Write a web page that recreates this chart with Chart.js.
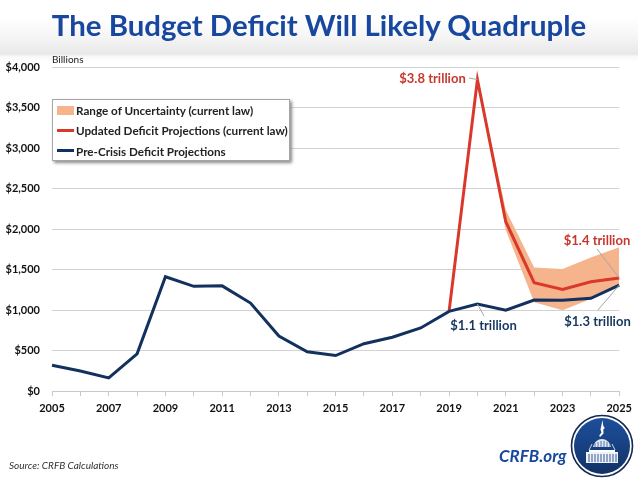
<!DOCTYPE html>
<html><head><meta charset="utf-8">
<style>
html,body{margin:0;padding:0;background:#fff;width:638px;height:479px;overflow:hidden}
#wrap{position:relative;width:638px;height:479px;font-family:Lato,sans-serif}
#band{position:absolute;left:0;top:0;width:638px;height:62px;background:linear-gradient(#fff 0,#fff 18px,#f6f6f6 36px,#e9e9e9 53px,#e6e6e6 54px,#f7f7f7 56px,#fff 62px)}
#title{position:absolute;left:0;top:7px;width:638px;text-align:center;font-size:29.4px;line-height:36px;font-weight:700;color:#17479e;white-space:nowrap}
canvas{position:absolute;left:0;top:0}
#legend{position:absolute;left:52px;top:99px;width:236px;height:60px;background:#fff;border:1px solid #a6a6a6;box-shadow:2px 2px 3px #8c8c8c;font-size:11.7px;font-weight:700;color:#222}
.row{position:absolute;left:4px;height:20px;line-height:20px;white-space:nowrap}
.sw{position:absolute;left:0;width:17px}
.tx{position:absolute;left:19px;top:0}
#source{position:absolute;left:9px;top:459px;font-size:10px;font-style:italic;color:#333}
#org{position:absolute;left:499px;top:445px;font-size:17px;font-weight:700;font-style:italic;color:#17479e}
#billions{position:absolute;left:52px;top:53px;font-size:10px;color:#222}
#logo{position:absolute;left:570px;top:414px}
</style></head><body>
<div id="wrap">
<div id="band"></div>
<canvas id="c" width="638" height="479"></canvas>
<div id="title">The Budget Deficit Will Likely Quadruple</div>
<div id="billions">Billions</div>
<div id="legend"></div>
<div id="source">Source: CRFB Calculations</div>
<div id="org">CRFB.org</div>
<svg id="logo" width="64" height="64" viewBox="0 0 64 64">
<defs><linearGradient id="g" x1="0" y1="0" x2="0" y2="1"><stop offset="0" stop-color="#1d4f9c"/><stop offset="1" stop-color="#123266"/></linearGradient></defs>
<circle cx="32" cy="32" r="30.5" fill="#fff" stroke="#14294f" stroke-width="1.6"/>
<circle cx="32" cy="32" r="28" fill="url(#g)"/>
<path d="M32.500 6l.8 6 1.500 2-1.500 1.500 .2 4-3.500 3.500-.8-1.500 2.300-3-1-3z" fill="#fff"/>
<path d="M23 33c1-5 5-8 9-8s8 3 9 8z" fill="#dfe7f2"/>
<path d="M19 36h26v2H19z" fill="#fff"/>
<path d="M22 30l-3 6M42 30l3 6" stroke="#c9d6ea" stroke-width="1"/>
<path d="M16 38h32v11H16z" fill="#eef2f8"/>
<path d="M19 40v8M22 40v8M25 40v8M28 40v8M31 40v8M34 40v8M37 40v8M40 40v8M43 40v8M46 40v8" stroke="#34588f" stroke-width="1"/>
<path d="M25 29v4M28 28v5M31 27v6M34 27v6M37 28v5M40 29v4" stroke="#34588f" stroke-width=".8"/>
</svg>
</div>
<script src="https://cdn.jsdelivr.net/npm/chart.js@4/dist/chart.umd.min.js"></script>
<script>
const years=['2005','2006','2007','2008','2009','2010','2011','2012','2013','2014','2015','2016','2017','2018','2019','2020','2021','2022','2023','2024','2025'];
const preCrisis=[318,248,161,459,1413,1294,1300,1087,680,485,438,585,665,779,984,1075,1000,1125,1121,1146,1310];
const updated=[null,null,null,null,null,null,null,null,null,null,null,null,null,null,984,3850,2093,1339,1257,1351,1397];
const upper=[null,null,null,null,null,null,null,null,null,null,null,null,null,null,null,3850,2237,1528,1508,1652,1776];
const lower=[null,null,null,null,null,null,null,null,null,null,null,null,null,null,null,3850,1990,1096,997,1137,1310];
const yTicks=[0,500,1000,1500,2000,2500,3000,3500,4000];
const seriesNames=['Range of Uncertainty (current law)','Updated Deficit Projections (current law)','Pre-Crisis Deficit Projections'];
const callouts=[
 {text:'$3.8 trillion',color:'#c8372d',series:updated,year:'2020',tx:432.5,ty:79,x1:469,y1:78},
 {text:'$1.4 trillion',color:'#c8372d',series:updated,year:'2025',tx:597,ty:241,x1:597,y1:249},
 {text:'$1.1 trillion',color:'#17365f',series:preCrisis,year:'2020',tx:483.5,ty:326,x1:484,y1:316},
 {text:'$1.3 trillion',color:'#17365f',series:preCrisis,year:'2025',tx:597.5,ty:322,x1:598,y1:310}
];
const RED='#d9382a',NAVY='#13315f',BAND='#f6b48c';
const calloutPlugin={id:'callouts',afterDatasetsDraw(chart){
 const {ctx,scales:{x,y}}=chart;
 ctx.save();
 ctx.textAlign='center';ctx.textBaseline='middle';ctx.font='700 13px Lato';
 callouts.forEach(c=>{
  const i=years.indexOf(c.year);
  ctx.strokeStyle='#a6a6a6';ctx.lineWidth=1;
  ctx.beginPath();ctx.moveTo(c.x1,c.y1);ctx.lineTo(x.getPixelForValue(i),y.getPixelForValue(c.series[i]));ctx.stroke();
  ctx.fillStyle=c.color;ctx.fillText(c.text,c.tx,c.ty);
 });
 ctx.restore();
}};
const chart=new Chart(document.getElementById('c'),{
 type:'line',
 data:{labels:years,datasets:[
  {label:'upper',data:upper,borderWidth:0,pointRadius:0,backgroundColor:BAND,fill:'+1',tension:0,order:5},
  {label:'lower',data:lower,borderWidth:0,pointRadius:0,fill:false,tension:0,order:5},
  {label:seriesNames[1],data:updated,borderColor:RED,borderWidth:3,pointRadius:0,fill:false,tension:0,order:2},
  {label:seriesNames[2],data:preCrisis,borderColor:NAVY,borderWidth:3,pointRadius:0,fill:false,tension:0,order:1}
 ]},
 options:{
  responsive:false,animation:false,devicePixelRatio:1,
  layout:{padding:{left:0,right:18,top:67.5,bottom:63}},
  plugins:{legend:{display:false},title:{display:false},tooltip:{enabled:false}},
  scales:{
   x:{type:'category',offset:false,afterFit(s){s.height=25},
    grid:{display:true,drawOnChartArea:false,drawTicks:true,tickLength:5,color:'#c8c8c8'},
    border:{color:'#c8c8c8'},
    ticks:{autoSkip:false,maxRotation:0,color:'#111',font:{family:'Lato',size:11,weight:'700'},padding:6,
     callback(v,i){return i%2===0?years[i]:''}}},
   y:{min:0,max:4000,afterBuildTicks(s){s.ticks=yTicks.map(v=>({value:v}))},
    grid:{drawTicks:false,color:'#d2d2d2'},border:{display:false},
    afterFit(s){s.width=52},
    ticks:{autoSkip:false,color:'#111',font:{family:'Lato',size:11,weight:'700'},padding:12,
     callback(v){return '$'+v.toLocaleString('en-US')}}}
  }
 },
 plugins:[calloutPlugin]
});
const lg=document.getElementById('legend');
[[BAND,9],[RED,3],[NAVY,3]].forEach(([col,h],i)=>{
 const r=document.createElement('div');r.className='row';r.style.top=(0+i*20.3)+'px';
 const s=document.createElement('div');s.className='sw';s.style.background=col;s.style.height=h+'px';s.style.top=(10-h/2)+'px';
 const t=document.createElement('div');t.className='tx';t.textContent=seriesNames[i];
 r.append(s,t);lg.append(r);
});
</script>
</body></html>
